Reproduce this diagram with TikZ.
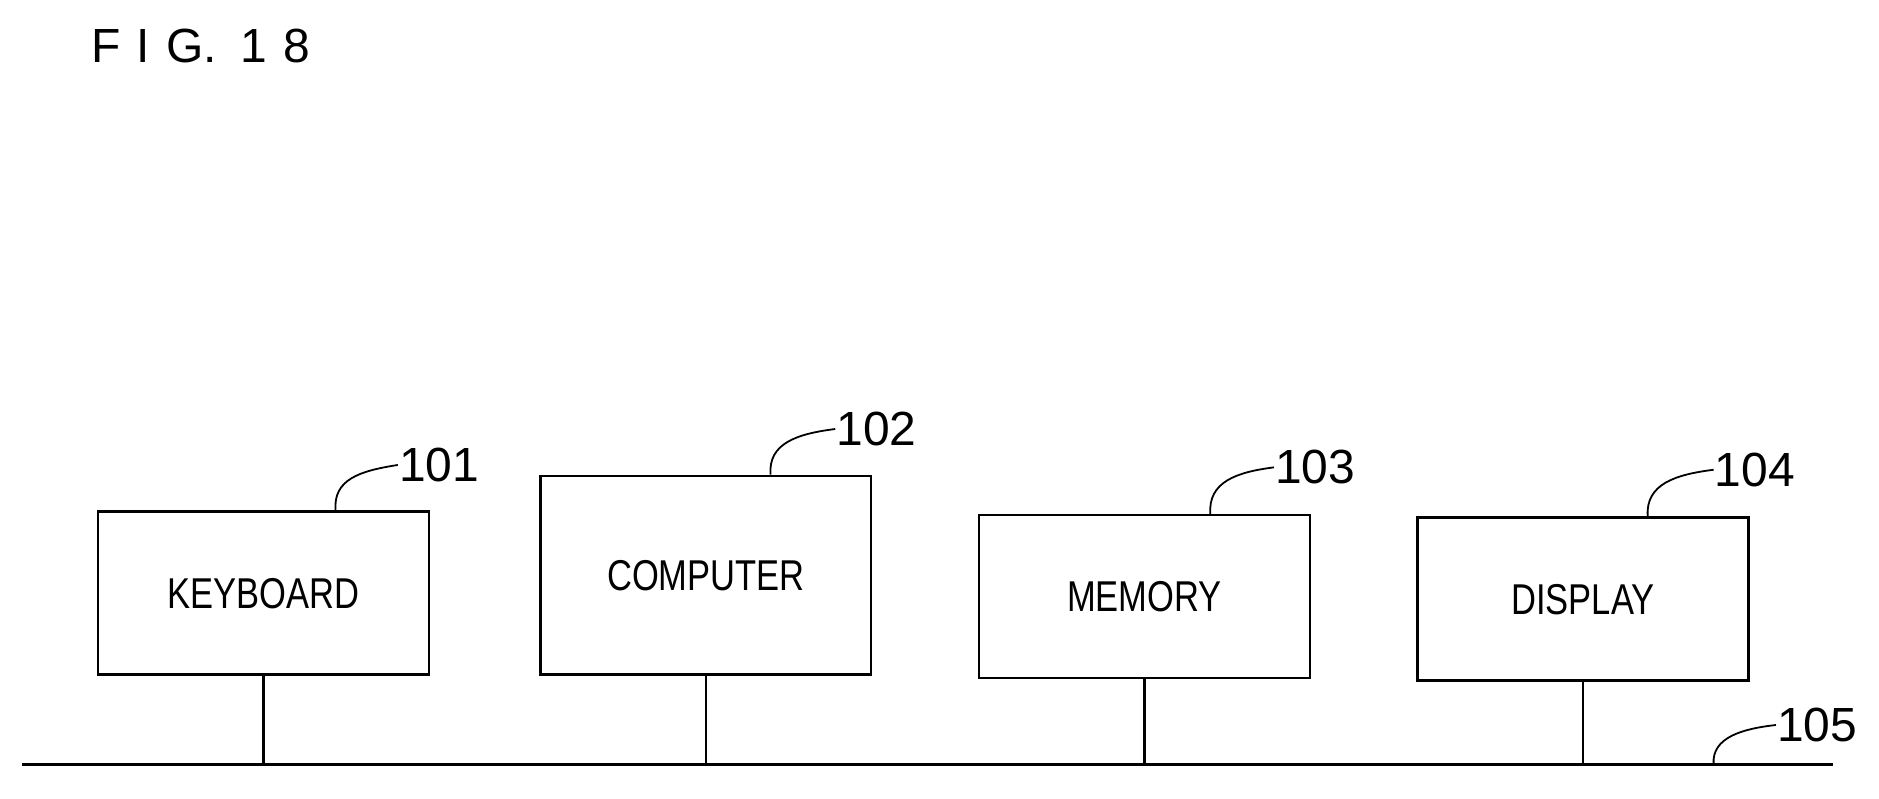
\documentclass[tikz,border=0pt]{standalone}
\usepackage{fontspec}
\setmainfont{Liberation Sans}
\usetikzlibrary{positioning}
\tikzstyle{unitbox} = [draw, line width=2pt, minimum width=276pt, minimum height=136pt, font=\fontsize{36}{40}\selectfont, xscale=1]
\tikzstyle{refnum} = [font=\fontsize{40}{44}\selectfont, anchor=west, inner sep=0pt]
\tikzstyle{leader} = [line width=1.5pt]
\begin{document}
\begin{tikzpicture}[x=1pt, y=-1pt, line width=2pt]
        \useasboundingbox (0,0) rectangle (1568,666);
        \node[anchor=west, font=\fontsize{40}{44}\selectfont] (fig) at (72,38) {F\,\,I\,\,G.\,\,\,1\,\,8};

        \node [unitbox, minimum height=136pt] (kbd) at (220,495) {\scalebox{0.8}[1]{KEYBOARD}};
        \node [unitbox, minimum height=166pt] (cpu) at (589,480) {\scalebox{0.8}[1]{COMPUTER}};
        \node [unitbox, minimum height=136pt] (mem) at (955,498) {\scalebox{0.8}[1]{MEMORY}};
        \node [unitbox, minimum height=136pt] (dsp) at (1321,500) {\scalebox{0.8}[1]{DISPLAY}};

        \coordinate (busL) at (18,638);
        \coordinate (busR) at (1530,638);
        \draw (busL) -- (busR);
        \draw (kbd.south) -- (kbd.south |- busL);
        \draw (cpu.south) -- (cpu.south |- busL);
        \draw (mem.south) -- (mem.south |- busL);
        \draw (dsp.south) -- (dsp.south |- busL);

        \node [refnum] (n101) at (332,388) {101};
        \node [refnum] (n102) at (697,358) {102};
        \node [refnum] (n103) at (1063,390) {103};
        \node [refnum] (n104) at (1430,392) {104};
        \node [refnum] (n105) at (1482,605) {105};

        \draw [leader] (kbd.north -| 280,0) .. controls (278,400) and (300,393) .. (n101.west);
        \draw [leader] (cpu.north -| 643,0) .. controls (641,370) and (665,362) .. (n102.west);
        \draw [leader] (mem.north -| 1010,0) .. controls (1008,402) and (1032,394) .. (n103.west);
        \draw [leader] (dsp.north -| 1375,0) .. controls (1373,404) and (1398,396) .. (n104.west);
        \draw [leader] (1430,638) .. controls (1428,615) and (1455,608) .. (n105.west);
\end{tikzpicture}
\end{document}
